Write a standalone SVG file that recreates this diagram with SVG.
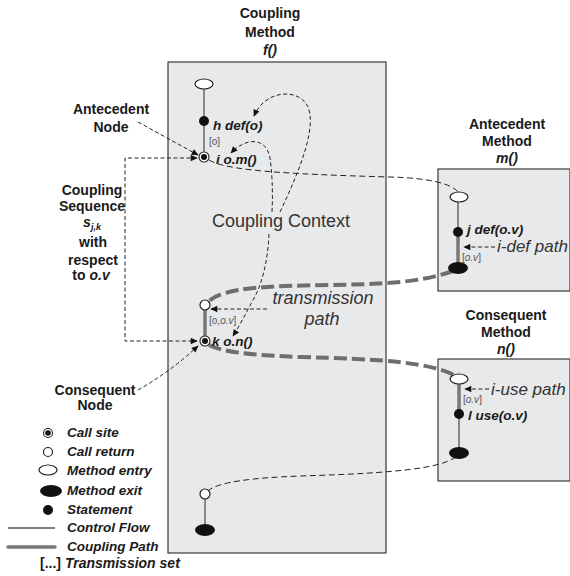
<svg xmlns="http://www.w3.org/2000/svg" width="570" height="576" viewBox="0 0 570 576">
<defs>
<marker id="ah" viewBox="0 0 10 10" refX="9" refY="5" markerWidth="9" markerHeight="7" markerUnits="userSpaceOnUse" orient="auto-start-reverse"><path d="M0,0.5 L10,5 L0,9.5 z" fill="#111"/></marker>
<style>
.box{fill:#e8e9ea;stroke:#3a3a3a;stroke-width:1.2}
.t{font-family:"Liberation Sans",Arial,sans-serif;font-size:14px;font-weight:bold;fill:#1a1a1a}
.c{text-anchor:middle}
.bi{font-family:"Liberation Sans",Arial,sans-serif;font-size:13.5px;font-weight:bold;font-style:italic;fill:#1a1a1a}
.big{font-family:"Liberation Sans",Arial,sans-serif;font-size:18px;fill:#333}
.mid{font-family:"Liberation Sans",Arial,sans-serif;font-size:17px;fill:#333;font-style:italic}
.it{font-style:italic}
.ts{font-family:"Liberation Sans",Arial,sans-serif;font-size:10px;fill:#555}
.cf{stroke:#555;stroke-width:1.3;fill:none}
.cp{stroke:#777;stroke-width:3.5;fill:none}
.entry{fill:#fff;stroke:#222;stroke-width:1.2}
.exit{fill:#111}
.stmt{fill:#111}
.ret{fill:#fff;stroke:#222;stroke-width:1.2}
.cs-o{fill:#fff;stroke:#222;stroke-width:1.1}
.cs-i{fill:#111}
.dash{stroke:#222;stroke-width:1;fill:none;stroke-dasharray:4 2.5}
.dashl{stroke:#222;stroke-width:1;fill:none;stroke-dasharray:6 3.5}
.cpath{stroke:#6e6e6e;stroke-width:4;fill:none;stroke-dasharray:13 5}
</style>
</defs>

<g id="method-f">
<rect class="box" x="168" y="62" width="218" height="491"/>
<text class="t c" x="270" y="18">Coupling</text>
<text class="t c" x="270" y="37">Method</text>
<text class="t c it" x="270" y="55">f()</text>
<text class="big" x="212" y="227">Coupling Context</text>
</g>
<g id="method-m">
<rect class="box" x="438" y="169" width="132" height="122"/>
<text class="t c" x="507" y="129">Antecedent</text>
<text class="t c" x="507" y="146">Method</text>
<text class="t c it" x="507" y="163">m()</text>
</g>
<g id="method-n">
<rect class="box" x="438" y="359" width="132" height="122"/>
<text class="t c" x="506" y="320">Consequent</text>
<text class="t c" x="506" y="337">Method</text>
<text class="t c it" x="506" y="354">n()</text>
</g>

<g id="flow-lines">
<line class="cf" x1="204" y1="89" x2="204" y2="152"/>
<line class="cp" x1="205" y1="305" x2="205" y2="341"/>
<line class="cf" x1="205" y1="494" x2="205" y2="530"/>
<line class="cf" x1="458" y1="197" x2="458" y2="232"/>
<line class="cp" x1="458" y1="232" x2="458" y2="268"/>
<line class="cp" x1="459" y1="379" x2="459" y2="414"/>
<line class="cf" x1="459" y1="414" x2="459" y2="453"/>
</g>

<g id="connectors">
<path class="dashl" d="M209,160 C225,170 280,174 390,177 C430,178 452,184 458,192"/>
<path class="dash" d="M280,212 C300,170 318,125 307,105 C297,88 265,90 254,116" marker-end="url(#ah)"/>
<path class="dash" d="M272,212 C273,190 272,172 270,158 C266,136 245,138 231,153" marker-end="url(#ah)"/>
<path class="dash" d="M269,234 C268,260 262,285 253,300 C246,313 240,325 233,336" marker-end="url(#ah)"/>
<path class="dash" d="M197,158 H125 V341 H197" marker-start="url(#ah)" marker-end="url(#ah)"/>
<path class="dash" d="M138,122 L198,155" marker-end="url(#ah)"/>
<path class="dash" d="M138,390 Q170,372 198,346" marker-end="url(#ah)"/>
<path class="dash" d="M267,309 H211" marker-end="url(#ah)"/>
<path class="dash" d="M495,247 H464" marker-end="url(#ah)"/>
<path class="dash" d="M489,389 H465" marker-end="url(#ah)"/>
<path class="cpath" d="M453,271 C420,283 380,284 330,285 C270,286 225,287 209,301"/>
<path class="cpath" d="M209,345 C222,352 250,355 300,357 C380,359 430,362 456,376"/>
<path class="dashl" d="M456,457 C440,468 400,473 300,476 C250,478 220,482 209,490"/>
</g>

<g id="node-f-entry"><ellipse class="entry" cx="204" cy="84" rx="9" ry="5"/></g>
<g id="node-h"><circle class="stmt" cx="204" cy="121" r="5"/><text class="bi" x="213" y="130">h def(o)</text><text class="ts" x="209" y="145">[o]</text></g>
<g id="node-i"><circle class="cs-o" cx="204" cy="157" r="5"/><circle class="cs-i" cx="204" cy="157" r="3"/><text class="bi" x="216" y="164">i o.m()</text></g>
<g id="node-f-return1"><circle class="ret" cx="205" cy="305" r="5"/><text class="ts" x="209" y="324">[o,<tspan class="it">o.v</tspan>]</text></g>
<g id="node-k"><circle class="cs-o" cx="205" cy="341" r="5"/><circle class="cs-i" cx="205" cy="341" r="3"/><text class="bi" x="212" y="346">k o.n()</text></g>
<g id="node-f-return2"><circle class="ret" cx="205" cy="494" r="5"/></g>
<g id="node-f-exit"><ellipse class="exit" cx="205" cy="530" rx="10" ry="6"/></g>

<g id="node-m-entry"><ellipse class="entry" cx="459" cy="197" rx="9" ry="5"/></g>
<g id="node-j"><circle class="stmt" cx="458" cy="232" r="5"/><text class="bi" x="467" y="234">j def(o.v)</text><text class="ts" x="462" y="261">[<tspan class="it">o.v</tspan>]</text></g>
<g id="node-m-exit"><ellipse class="exit" cx="458" cy="268" rx="10" ry="6"/></g>

<g id="node-n-entry"><ellipse class="entry" cx="459" cy="379" rx="9" ry="5"/><text class="ts" x="463" y="403">[<tspan class="it">o.v</tspan>]</text></g>
<g id="node-l"><circle class="stmt" cx="459" cy="414" r="5"/><text class="bi" x="468" y="420">l use(o.v)</text></g>
<g id="node-n-exit"><ellipse class="exit" cx="459" cy="453" rx="10" ry="6"/></g>

<g id="labels">
<text class="big it" x="323" y="304" text-anchor="middle">transmission</text>
<text class="big it" x="322" y="325" text-anchor="middle">path</text>
<text class="mid" x="497" y="252">i-def path</text>
<text class="mid" x="491" y="395">i-use path</text>
<text class="t c" x="111" y="114">Antecedent</text>
<text class="t c" x="111" y="132">Node</text>
<text class="t c" x="92" y="195">Coupling</text>
<text class="t c" x="92" y="211">Sequence</text>
<text class="t c it" x="92" y="227">s<tspan font-size="9" dy="3">j,k</tspan></text>
<text class="t c" x="93" y="247">with</text>
<text class="t c" x="93" y="265">respect</text>
<text class="t c" x="91" y="280">to <tspan class="it">o.v</tspan></text>
<text class="t c" x="95" y="395">Consequent</text>
<text class="t c" x="95" y="410">Node</text>
</g>

<g id="legend">
<circle class="cs-o" cx="48" cy="433" r="4.5"/><circle class="cs-i" cx="48" cy="433" r="2.8"/>
<text class="bi" x="67" y="437">Call site</text>
<circle class="ret" cx="48" cy="452" r="4.5"/>
<text class="bi" x="67" y="456">Call return</text>
<ellipse class="entry" cx="48" cy="470" rx="9" ry="5"/>
<text class="bi" x="67" y="475">Method entry</text>
<ellipse class="exit" cx="51" cy="491" rx="11" ry="6"/>
<text class="bi" x="67" y="495">Method exit</text>
<circle class="stmt" cx="48" cy="510" r="5"/>
<text class="bi" x="67" y="514">Statement</text>
<line class="cf" x1="8" y1="528" x2="55" y2="528"/>
<text class="bi" x="67" y="532">Control Flow</text>
<line class="cp" x1="8" y1="547" x2="55" y2="547" stroke-linecap="round"/>
<text class="bi" x="67" y="551">Coupling Path</text>
<text class="t" x="40" y="568" font-size="13.5">[...] <tspan class="it">Transmission set</tspan></text>
</g>
</svg>
